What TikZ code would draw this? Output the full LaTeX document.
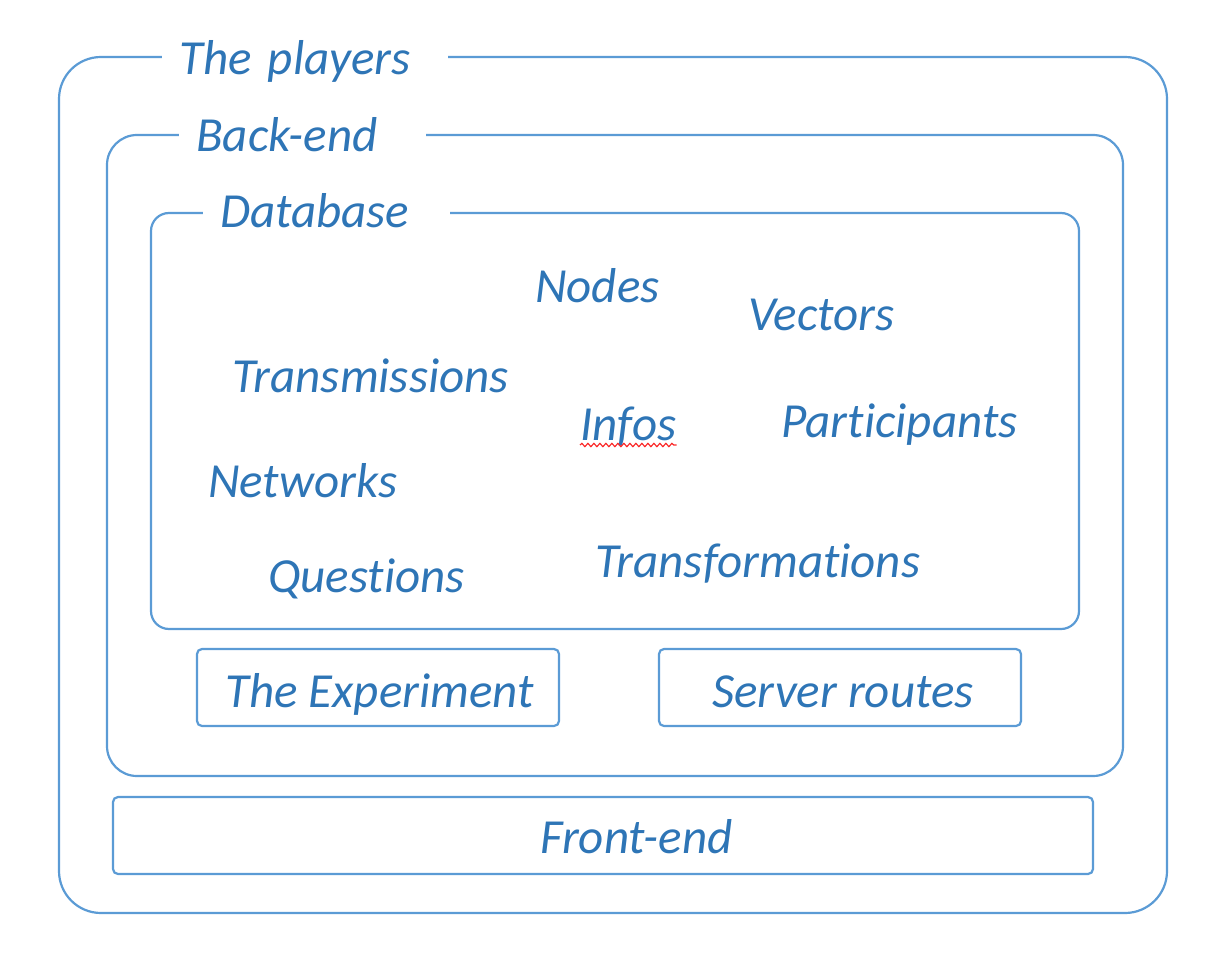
\documentclass[tikz,border=0pt]{standalone}
\usepackage{fontspec}
\setmainfont{Carlito}[Ligatures={NoCommon}]
\usepackage{tikz}
\usetikzlibrary{decorations.pathmorphing}
\definecolor{frameBlue}{RGB}{91,155,213}
\definecolor{textBlue}{RGB}{46,117,182}
\definecolor{spellRed}{RGB}{250,40,40}

\begin{document}
\begin{tikzpicture}[x=1pt,y=-1pt,
  box/.style={draw=frameBlue, line width=2.2pt, inner sep=0pt, rectangle},
  lbl/.style={text=textBlue, inner sep=0pt, anchor=base west, font=\fontsize{49}{59}\selectfont\itshape},
  title/.style={lbl, fill=white, inner xsep=17pt, align=left},
  squiggle/.style={spellRed, line width=1.2pt, decorate, decoration={snake, amplitude=1.6pt, segment length=6pt}}]

\useasboundingbox (0,0) rectangle (1230,968);

%
\node[box, rounded corners=42pt, minimum width=1108pt, minimum height=856pt] (players) at (613,485) {};
\node[title, text width=252pt] (playerstitle) at (162,75) {The players};

%
\node[box, rounded corners=30pt, minimum width=1016pt, minimum height=641pt] (backend) at (615,455.5) {};
\node[title, text width=213pt] (backendtitle) at (179,152) {Back-end};

%
\node[box, rounded corners=18pt, minimum width=928pt, minimum height=416pt] (db) at (615,421) {};
\node[title, text width=213pt] (dbtitle) at (203,228) {Database};

%
\node[lbl] (nodes) at (535,302) {Nodes};
\node[lbl] (vectors) at (748,330) {Vectors};
\node[lbl] (transmissions) at (232,392) {Transmissions};
\node[lbl] (infos) at (580,440) {Infos};
\node[lbl] (participants) at (781,437) {Participants};
\node[lbl] (networks) at (208,497) {Networks};
\node[lbl] (questions) at (268,592) {Questions};
\node[lbl] (transformations) at (595,577) {Transformations};

%
\draw[squiggle] ([yshift=-5pt]infos.base west) -- ([yshift=-5pt]infos.base east);

%
\node[box, rounded corners=5pt, minimum width=362pt, minimum height=77pt] (experiment) at (378,687.5) {};
\node[lbl] (experimenttext) at (225,707) {The Experiment};

\node[box, rounded corners=5pt, minimum width=362pt, minimum height=77pt] (routes) at (840,687.5) {};
\node[lbl] (routestext) at (712,707) {Server routes};

%
\node[box, rounded corners=5pt, minimum width=980pt, minimum height=77pt] (frontend) at (603,835.5) {};
\node[lbl] (frontendtext) at (540,853) {Front-end};

\end{tikzpicture}
\end{document}
